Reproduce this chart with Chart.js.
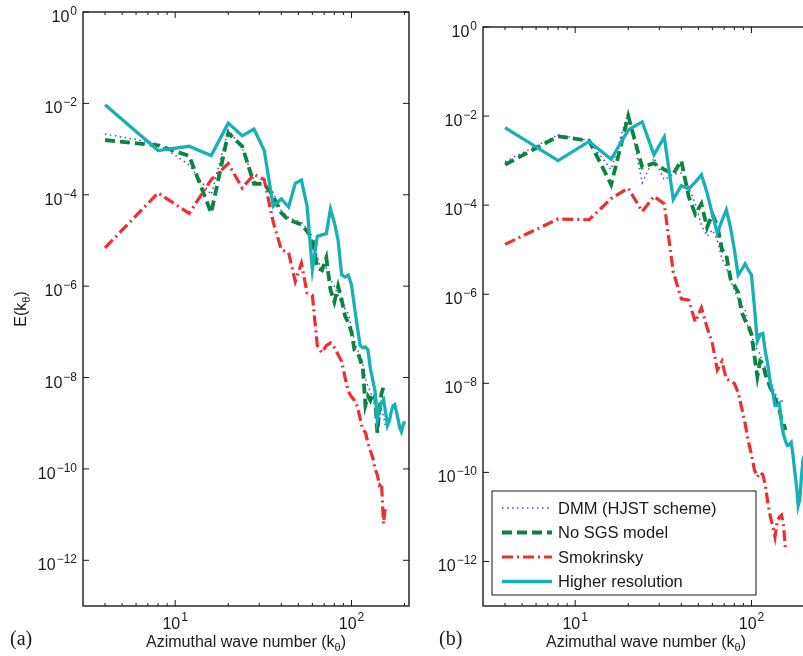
<!DOCTYPE html>
<html>
<head>
<meta charset="utf-8">
<script src="https://cdn.jsdelivr.net/npm/chart.js@4.4.1/dist/chart.umd.min.js"></script>
<style>
  html, body { margin: 0; padding: 0; background: #fff; overflow: hidden; width: 803px; height: 656px; }
  canvas { position: absolute; top: 0; }
  #panelA { left: 0; }
  #panelB { left: 400px; }
</style>
</head>
<body>
<canvas id="panelA" width="420" height="656"></canvas>
<canvas id="panelB" width="420" height="656"></canvas>
<script>
// azimuthal wave numbers (every 4th mode)
const kHigh = [4, 8, 12, 16, 20, 24, 28, 32, 36, 40, 44, 48, 52, 56, 60, 64, 68, 72, 76, 80,
               84, 88, 92, 96, 100, 104, 108, 112, 116, 120, 124, 128, 132, 136, 140, 144, 148, 152, 156, 160,
               164, 168, 172, 176, 180, 184, 188, 192, 196, 200];
const kBase = [4, 8, 12, 16, 20, 24, 28, 32, 36, 40, 44, 48, 52, 56, 60, 64, 68, 72, 76, 80,
               84, 88, 92, 96, 100, 104, 108, 112, 116, 120, 124, 128, 132, 136, 140, 144, 148, 152, 156];

// ---- panel (a) ----
const dmmA = [2.14e-3, 1.32e-3, 4.5e-4, 1.0e-4, 2.63e-3, 1.07e-3, 2.0e-4, 1.58e-4, 1.12e-4, 4.5e-5,
              3.16e-5, 2.8e-5, 2.5e-5, 1.78e-5, 1.0e-5, 4.5e-6, 2.0e-6, 2.5e-6, 1.41e-6, 1.0e-6,
              6.3e-7, 4.0e-7, 3.16e-7, 2.5e-7, 1.26e-7, 6.3e-8, 4.0e-8, 3.16e-8, 2.0e-8, 1.0e-8,
              6.3e-9, 5.0e-9, 3.16e-9, 2.5e-9, 1.0e-9, 1.26e-9, 2.0e-9, 1.41e-9, 8.5e-10];
const noSgsA = [1.58e-3, 1.2e-3, 7.1e-4, 4.0e-5, 2.24e-3, 1.15e-3, 1.74e-4, 1.74e-4, 9.3e-5, 4.0e-5,
                2.8e-5, 2.5e-5, 2.24e-5, 1.58e-5, 1.12e-5, 2.5e-6, 2.24e-6, 4.2e-6, 8.3e-7, 4.5e-7,
                1.0e-6, 5.0e-7, 2.2e-7, 1.58e-7, 1.0e-7, 4.0e-8, 3.55e-8, 2.5e-8, 1.58e-8, 2.5e-9,
                3.9e-9, 3.16e-9, 4.6e-9, 4.3e-9, 6.2e-10, 2.0e-9, 4.5e-9, 6.3e-9, 5.6e-9];
const smokA = [6.9e-6, 1.1e-4, 3.9e-5, 2.14e-4, 4.8e-4, 1.41e-4, 2.8e-4, 2.14e-4, 2.5e-5, 6.3e-6,
               5.4e-6, 1.26e-6, 3.16e-6, 7.1e-7, 6.3e-7, 5.0e-8, 3.5e-8, 5.0e-8, 5.75e-8, 4.5e-8,
               3.16e-8, 2.24e-8, 1.0e-8, 5.0e-9, 3.8e-9, 3.16e-9, 2.34e-9, 1.26e-9, 7.2e-10, 6.3e-10,
               3.7e-10, 2.5e-10, 1.78e-10, 1.0e-10, 7.6e-11, 4.5e-11, 5.0e-11, 6.3e-12, 1.58e-11];
const highA = [9.3e-3, 9.3e-4, 1.15e-3, 7.2e-4, 3.7e-3, 1.95e-3, 2.75e-3, 9.3e-4, 5.6e-5, 8.1e-5,
               5.4e-5, 1.78e-4, 2.1e-4, 5.6e-5, 2.3e-6, 1.23e-5, 1.32e-5, 1.41e-5, 4.9e-5, 2.45e-5,
               1.0e-5, 1.78e-6, 1.58e-6, 1.74e-6, 1.07e-6, 3.55e-7, 1.26e-7, 5.0e-8, 4.5e-8, 4.7e-8,
               4.0e-8, 1.58e-8, 8.9e-9, 5.0e-9, 1.2e-9, 2.0e-9, 2.8e-9, 3.3e-9, 1.78e-9, 8.9e-10,
               1.12e-9, 1.78e-9, 2.4e-9, 2.57e-9, 1.78e-9, 1.2e-9, 7.9e-10, 6.6e-10, 8.9e-10, 1.1e-9];

// ---- panel (b) ----
const dmmB = [9.5e-4, 3.8e-3, 2.8e-3, 6.3e-4, 1.26e-2, 3.16e-4, 1.15e-3, 3.7e-4, 5.0e-4, 5.2e-4,
              2.5e-4, 1.1e-4, 3.55e-5, 2.0e-5, 2.8e-5, 1.66e-5, 6.3e-6, 4.0e-6, 2.0e-6, 1.26e-6,
              7.9e-7, 5.6e-7, 4.5e-7, 1.58e-7, 1.12e-7, 7.9e-8, 5.6e-8, 4.5e-8, 2.8e-8, 2.24e-8,
              1.41e-8, 1.12e-8, 8.3e-9, 6.3e-9, 4.5e-9, 4.2e-9, 4.0e-9, 4.0e-9, 3.8e-9];
const noSgsB = [8.1e-4, 3.5e-3, 2.8e-3, 2.9e-4, 1.0e-2, 7.1e-4, 8.7e-4, 6.3e-4, 5.0e-4, 1.0e-3,
                1.58e-4, 6.3e-5, 1.07e-4, 3.16e-5, 6.3e-5, 3.55e-5, 1.0e-5, 7.6e-6, 2.24e-6, 1.58e-6,
                1.12e-6, 4.0e-7, 2.6e-7, 2.0e-7, 1.26e-7, 4.0e-8, 1.41e-8, 3.16e-8, 2.8e-8, 1.58e-8,
                1.12e-8, 7.9e-9, 6.3e-9, 4.5e-9, 3.55e-9, 2.5e-9, 1.58e-9, 1.26e-9, 8.9e-10];
const smokB = [1.32e-5, 4.9e-5, 4.7e-5, 1.41e-4, 2.4e-4, 7.2e-5, 1.58e-4, 1.07e-4, 3.16e-6, 7.9e-7,
               7.4e-7, 2.4e-7, 5.0e-7, 1.78e-7, 7.9e-8, 2.0e-8, 3.1e-8, 1.26e-8, 1.12e-8, 1.0e-8,
               6.3e-9, 2.8e-9, 1.26e-9, 5.0e-10, 2.5e-10, 1.12e-10, 7.9e-11, 1.0e-10, 8.9e-11, 5.0e-11,
               2.0e-11, 1.0e-11, 6.3e-12, 3.55e-12, 7.9e-12, 1.0e-11, 1.1e-11, 6.3e-12, 1.78e-12];
const highB = [5.5e-3, 1.0e-3, 2.7e-3, 1.07e-3, 4.9e-3, 7.4e-3, 1.35e-3, 3.4e-3, 1.35e-4, 2.75e-4,
               2.3e-4, 3.3e-4, 4.8e-4, 1.9e-4, 6.3e-5, 2.34e-5, 4.5e-5, 7.8e-5, 3.16e-5, 1.0e-5,
               2.7e-6, 3.55e-6, 4.8e-6, 3.55e-6, 2.7e-6, 5.0e-7, 8.9e-8, 1.26e-7, 1.32e-7, 5.0e-8,
               2.5e-8, 1.0e-8, 6.3e-9, 3.16e-9, 3.16e-9, 3.55e-9, 1.26e-9, 7.1e-10, 5.0e-10, 4.0e-10,
               4.2e-10, 4.7e-10, 2.5e-10, 1.05e-10, 5.0e-11, 1.78e-11, 2.5e-11, 7.9e-11, 1.9e-10, 2.5e-10];

// axis ticks
const xMajorTicks = [10, 100];
const xMajorLabels = ["1", "2"];
const xMinorTicks = [4, 5, 6, 7, 8, 9, 20, 30, 40, 50, 60, 70, 80, 90, 200];
const yMajorTicks = [1, 1e-2, 1e-4, 1e-6, 1e-8, 1e-10, 1e-12];
const yMajorLabels = ["0", "\u22122", "\u22124", "\u22126", "\u22128", "\u221210", "\u221212"];
const seriesNames = ["DMM (HJST scheme)", "No SGS model", "Smokrinsky", "Higher resolution"];

const SANS = '"Liberation Sans", Arial, Helvetica, sans-serif';
const SERIF = '"Liberation Serif", "Times New Roman", serif';

function pts(ks, vals) {
    return vals.map((v, i) => ({ x: ks[i], y: v }));
}

// "10" with a raised exponent
function drawPow(ctx, exp, x, yBase, ySup, anchor) {
    ctx.font = `16px ${SANS}`;
    const wb = ctx.measureText("10").width;
    ctx.font = `12px ${SANS}`;
    const we = ctx.measureText(exp).width;
    const x0 = anchor === "right" ? x - wb - we - 1 : x - (wb + we + 1) / 2;
    ctx.textAlign = "left";
    ctx.textBaseline = "alphabetic";
    ctx.font = `16px ${SANS}`;
    ctx.fillText("10", x0, yBase);
    ctx.font = `12px ${SANS}`;
    ctx.fillText(exp, x0 + wb + 1, ySup);
}

// text with a subscript theta, centred on x
function drawSubTitle(ctx, pre, sub, post, x, y) {
    ctx.font = `16px ${SANS}`;
    const w1 = ctx.measureText(pre).width, w3 = ctx.measureText(post).width;
    ctx.font = `11px ${SANS}`;
    const w2 = ctx.measureText(sub).width;
    let cx = x - (w1 + w2 + w3) / 2;
    ctx.textAlign = "left";
    ctx.textBaseline = "alphabetic";
    ctx.font = `16px ${SANS}`;
    ctx.fillText(pre, cx, y);
    ctx.font = `11px ${SANS}`;
    ctx.fillText(sub, cx + w1, y + 4);
    ctx.font = `16px ${SANS}`;
    ctx.fillText(post, cx + w1 + w2, y);
}

const axesFrame = {
    id: "axesFrame",
    afterDatasetsDraw(chart, args, o) {
        const { ctx, chartArea: a, scales: { x, y } } = chart;
        ctx.save();
        ctx.strokeStyle = "#1a1a1a";
        ctx.fillStyle = "#1a1a1a";
        ctx.lineWidth = 1.4;
        ctx.setLineDash([]);
        ctx.strokeRect(a.left, a.top, a.right - a.left, a.bottom - a.top);

        ctx.lineWidth = 1;
        ctx.beginPath();
        xMinorTicks.forEach(v => {
            const px = x.getPixelForValue(v);
            ctx.moveTo(px, a.bottom); ctx.lineTo(px, a.bottom - 3);
            ctx.moveTo(px, a.top); ctx.lineTo(px, a.top + 3);
        });
        xMajorTicks.forEach(v => {
            const px = x.getPixelForValue(v);
            ctx.moveTo(px, a.bottom); ctx.lineTo(px, a.bottom - 6);
            ctx.moveTo(px, a.top); ctx.lineTo(px, a.top + 6);
        });
        yMajorTicks.forEach(v => {
            const py = y.getPixelForValue(v);
            ctx.moveTo(a.left, py); ctx.lineTo(a.left + 6, py);
            ctx.moveTo(a.right, py); ctx.lineTo(a.right - 6, py);
        });
        ctx.stroke();

        // tick labels
        yMajorTicks.forEach((v, i) => {
            const py = y.getPixelForValue(v);
            drawPow(ctx, yMajorLabels[i], a.left - 6, py + 10, py + 3, "right");
        });
        xMajorTicks.forEach((v, i) => {
            const px = x.getPixelForValue(v);
            drawPow(ctx, xMajorLabels[i], px, a.bottom + 23, a.bottom + 15, "center");
        });

        // axis titles
        drawSubTitle(ctx, "Azimuthal wave number (k", "\u03b8", ")", (a.left + a.right) / 2, a.bottom + 41);
        if (o.yTitle) {
            ctx.save();
            ctx.translate(26, (a.top + a.bottom) / 2);
            ctx.rotate(-Math.PI / 2);
            drawSubTitle(ctx, "E(k", "\u03b8", ")", 0, 0);
            ctx.restore();
        }

        // panel tag
        ctx.font = `20px ${SERIF}`;
        ctx.textAlign = "left";
        ctx.fillText(o.tag, o.tagX, 645);

        // legend box
        if (o.legend) {
            const L = o.legend;
            ctx.fillStyle = "#fff";
            ctx.fillRect(L.left, L.top, L.width, L.height);
            ctx.strokeStyle = "#1a1a1a";
            ctx.lineWidth = 1;
            ctx.strokeRect(L.left, L.top, L.width, L.height);
            chart.data.datasets.forEach((ds, i) => {
                const yy = L.top + 17 + i * 24.5;
                ctx.save();
                ctx.strokeStyle = ds.borderColor;
                ctx.lineWidth = ds.borderWidth;
                ctx.setLineDash(ds.borderDash || []);
                ctx.beginPath();
                ctx.moveTo(L.left + 10, yy);
                ctx.lineTo(L.left + 60, yy);
                ctx.stroke();
                ctx.restore();
                ctx.fillStyle = "#1a1a1a";
                ctx.font = `16.5px ${SANS}`;
                ctx.textBaseline = "middle";
                ctx.textAlign = "left";
                ctx.fillText(ds.label, L.left + 66, yy + 1);
            });
        }
        ctx.restore();
    }
};

function makePanel(id, series, frameOpts, topPad) {
    const datasets = [
        { label: seriesNames[0], data: pts(kBase, series[0]), borderColor: "#3f50c2", borderWidth: 1.5, borderDash: [1.5, 3.5], order: 4 },
        { label: seriesNames[1], data: pts(kBase, series[1]), borderColor: "#0a8440", borderWidth: 3.8, borderDash: [10, 5], order: 3 },
        { label: seriesNames[2], data: pts(kBase, series[2]), borderColor: "#ef2e33", borderWidth: 3.2, borderDash: [11, 4, 2, 4], order: 2 },
        { label: seriesNames[3], data: pts(kHigh, series[3]), borderColor: "#17b0b7", borderWidth: 3.3, borderDash: [], order: 1 }
    ];
    datasets.forEach(d => { d.pointRadius = 0; d.tension = 0; d.fill = false; d.borderJoinStyle = "miter"; });

    return new Chart(document.getElementById(id), {
        type: "line",
        data: { datasets },
        options: {
            responsive: false,
            animation: false,
            devicePixelRatio: 1,
            events: [],
            layout: { padding: { left: 0, right: 11, top: topPad, bottom: 0 } },
            plugins: { legend: { display: false }, tooltip: { enabled: false }, axesFrame: frameOpts },
            scales: {
                x: {
                    type: "logarithmic", min: 3, max: 212,
                    ticks: { display: false }, grid: { display: false }, border: { display: false },
                    afterFit(s) { s.height = 50; }
                },
                y: {
                    type: "logarithmic", min: 1e-13, max: 1,
                    ticks: { display: false }, grid: { display: false }, border: { display: false },
                    afterFit(s) { s.width = 83; }
                }
            }
        },
        plugins: [axesFrame]
    });
}

makePanel("panelA", [dmmA, noSgsA, smokA, highA], { tag: "(a)", tagX: 10, yTitle: true }, 12);
makePanel("panelB", [dmmB, noSgsB, smokB, highB], {
    tag: "(b)", tagX: 39, yTitle: false,
    legend: { left: 92, top: 491, width: 264, height: 104 }
}, 27);
</script>
</body>
</html>
